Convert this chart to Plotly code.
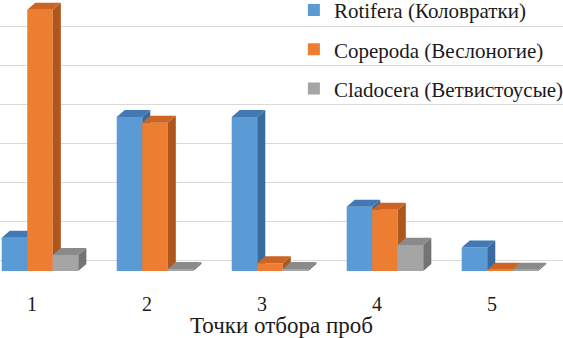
import plotly.graph_objects as go

categories = ["1", "2", "3", "4", "5"]
series_names = ["Rotifera (Коловратки)", "Copepoda (Веслоногие)", "Cladocera (Ветвистоусые)"]
rotifera = [0.85, 3.95, 3.95, 1.65, 0.6]
copepoda = [6.7, 3.8, 0.2, 1.57, 0.03]
cladocera = [0.41, 0.05, 0.05, 0.67, 0.03]
values = [rotifera, copepoda, cladocera]

front_colors = ["#5B9BD5", "#ED7D31", "#A5A5A5"]
side_colors = ["#3A6B9E", "#AD571D", "#747474"]
top_colors = ["#4279B5", "#CC6524", "#8A8A8A"]

# geometry (in axis units)
bar_w = 0.222      # width of one bar
dx = 0.07          # depth offset in x
dy = 0.18          # depth offset in y
centers = list(range(1, len(categories) + 1))

SERIF = "Times New Roman"

fig = go.Figure()
for s, vals in enumerate(values):
    fx, fy, sx, sy, tx, ty = [], [], [], [], [], []
    for c, v in zip(centers, vals):
        xl = c + (s - 1.5) * bar_w
        xr = xl + bar_w
        fx += [xl, xr, xr, xl, xl, None]
        fy += [0, 0, v, v, 0, None]
        sx += [xr, xr + dx, xr + dx, xr, xr, None]
        sy += [0, dy, v + dy, v, 0, None]
        tx += [xl, xr, xr + dx, xl + dx, xl, None]
        ty += [v, v, v + dy, v + dy, v, None]
    for xs, ys, col in ((fx, fy, front_colors[s]), (sx, sy, side_colors[s]), (tx, ty, top_colors[s])):
        fig.add_trace(go.Scatter(x=xs, y=ys, mode="lines", fill="toself", fillcolor=col,
                                 line=dict(width=0, color=col), hoverinfo="skip",
                                 showlegend=False))
    fig.add_trace(go.Scatter(x=[None], y=[None], mode="markers", name=series_names[s],
                             marker=dict(symbol="square", size=8, color=front_colors[s]),
                             legendgroup=series_names[s], showlegend=True))

tick_pos = [c - 0.07 for c in centers]

fig.update_layout(
    width=563, height=338,
    margin=dict(l=0, r=0, t=0, b=48, autoexpand=False),
    plot_bgcolor="white", paper_bgcolor="white",
    font=dict(family=SERIF, size=20, color="#1a1a1a"),
    showlegend=True,
    legend=dict(x=0.522, xanchor="left", y=1.035, yanchor="top", bgcolor="rgba(0,0,0,0)",
                traceorder="grouped", tracegroupgap=9, itemsizing="constant",
                font=dict(family=SERIF, size=21, color="#1a1a1a")),
    xaxis=dict(range=[0.652, 5.548], tickvals=tick_pos, ticktext=categories,
               showgrid=False, zeroline=False, showline=False, ticks="",
               tickfont=dict(family=SERIF, size=20),
               title=dict(text="Точки отбора проб", standoff=1,
                          font=dict(family=SERIF, size=23))),
    yaxis=dict(range=[-0.487, 6.949], tick0=0.282, dtick=1, showticklabels=False,
               showgrid=True, gridcolor="#D9D9D9", gridwidth=1, zeroline=False,
               showline=False, ticks=""),
)

fig.write_html("out.html", config={"displayModeBar": False},
               post_script="document.body.style.margin='0px';document.body.style.overflow='hidden';")
